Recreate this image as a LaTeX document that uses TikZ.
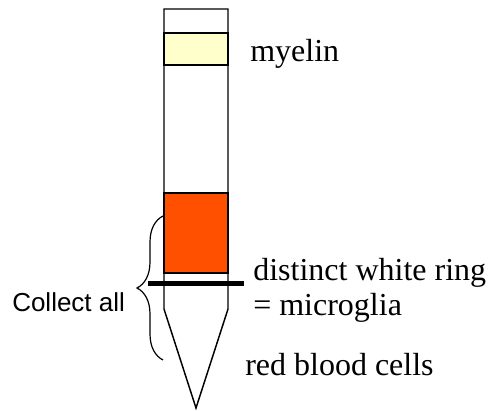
\documentclass[tikz,border=0pt]{standalone}
\usepackage{fontspec}
\setmainfont{Liberation Serif}
\setsansfont{Liberation Sans}
\usetikzlibrary{positioning, decorations.pathreplacing}

\definecolor{myelinfill}{HTML}{FFFFCC}
\definecolor{bandorange}{HTML}{FF5000}

\begin{document}
\begin{tikzpicture}[x=0.75pt, y=-0.75pt,
    tube/.style={draw, line width=1.1pt, line join=miter},
    layer/.style={rectangle, draw, line width=1.1pt, inner sep=0pt, minimum width=48pt, fill=#1},
    layer/.default=white,
    label/.style={font=\fontsize{24}{28}\selectfont, anchor=base west, inner sep=0pt},
    side/.style={font=\sffamily\fontsize{19.5}{23}\selectfont, anchor=base west, inner sep=0pt},
]
\useasboundingbox (0,0) rectangle (488,410);

% --- layers inside the tube ---
\node[layer=myelinfill, minimum height=24pt] (myelin) at (196,49) {};
\node[layer=bandorange, minimum height=60pt] (cells) at (196,233) {};

% --- the tube ---
\coordinate (top l) at (164,9);
\coordinate (top r) at (228,9);
\coordinate (cone l) at (164,309);
\coordinate (cone r) at (228,309);
\coordinate (tip) at (196,408);
\draw[tube] (top l) -- (top r) -- (cone r) -- (tip) -- (cone l) -- cycle;

% --- white ring ---
\coordinate (ring w) at (148,283.5);
\coordinate (ring e) at (244,283.5);
\draw[line width=3.8pt] (ring w) -- (ring e);

% --- brace ---
\coordinate (brace lo) at (163,360);
\coordinate (brace hi) at (163,216);
\draw[decorate, decoration={brace, amplitude=19.5pt}, line width=0.9pt] (brace lo) -- (brace hi);

% --- labels ---
\node[label] (myelin lbl) at (250,61) {myelin};
\node[label] (ring lbl) at (253,280) {distinct white ring};
\node[label] (micro lbl) at (253,315) {= microglia};
\node[label] (rbc lbl) at (245,375) {red blood cells};
\node[side] (collect) at (12,311) {Collect all};

\end{tikzpicture}
\end{document}
